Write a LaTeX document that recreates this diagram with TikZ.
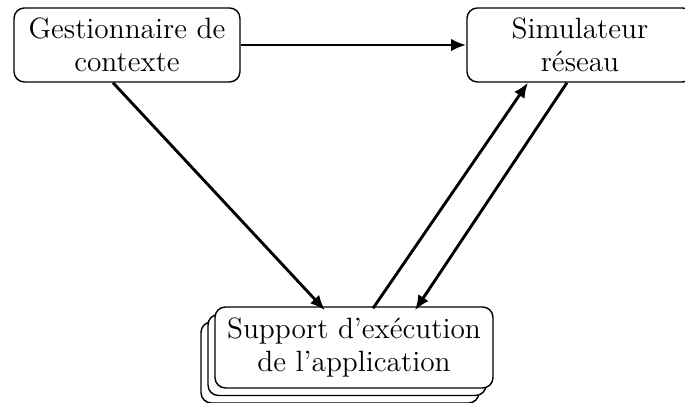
\documentclass[tikz,border=0pt]{standalone}
\usepackage{tikz}
\usetikzlibrary{arrows.meta, shadows, calc}
\tikzset{
  box/.style={
    rectangle, draw=black, fill=white, rounded corners=4pt, line width=0.55pt,
    minimum width=226*0.385pt, minimum height=74*0.385pt,
    align=center, inner sep=2pt, font=\fontsize{11.3}{12.8}\selectfont
  },
  stackbox/.style={box, minimum width=278*0.385pt, minimum height=81*0.385pt,
    double copy shadow={shadow xshift=-7*0.385pt, shadow yshift=-7.5*0.385pt}},
  arrow/.style={-{Latex[length=5.8pt,width=4.8pt]}, line width=1.1pt, color=black}
}
\begin{document}
\begin{tikzpicture}[x=0.385pt, y=-0.385pt]

  % fixed frame
  \useasboundingbox (0,0) rectangle (685,403);

  % Nodes
  \node[box] (ctx) at (127,45) {Gestionnaire de\\contexte};
  \node[box] (sim) at (580,45) {Simulateur\\r\'eseau};
  \node[stackbox] (exec) at (354,347.5) {Support d'ex\'ecution\\de l'application};

  % Arrows
  \draw[arrow] (ctx.east) -- (sim.west);
  \draw[arrow] ($(ctx.south)+(-14,0)$) -- ($(exec.north)+(-29,4)$);
  \draw[arrow] ($(exec.north)+(19,2)$) -- ($(sim.south)+(-52,0)$);
  \draw[arrow] ($(sim.south)+(-13,0)$) -- ($(exec.north)+(61,4)$);

\end{tikzpicture}
\end{document}
